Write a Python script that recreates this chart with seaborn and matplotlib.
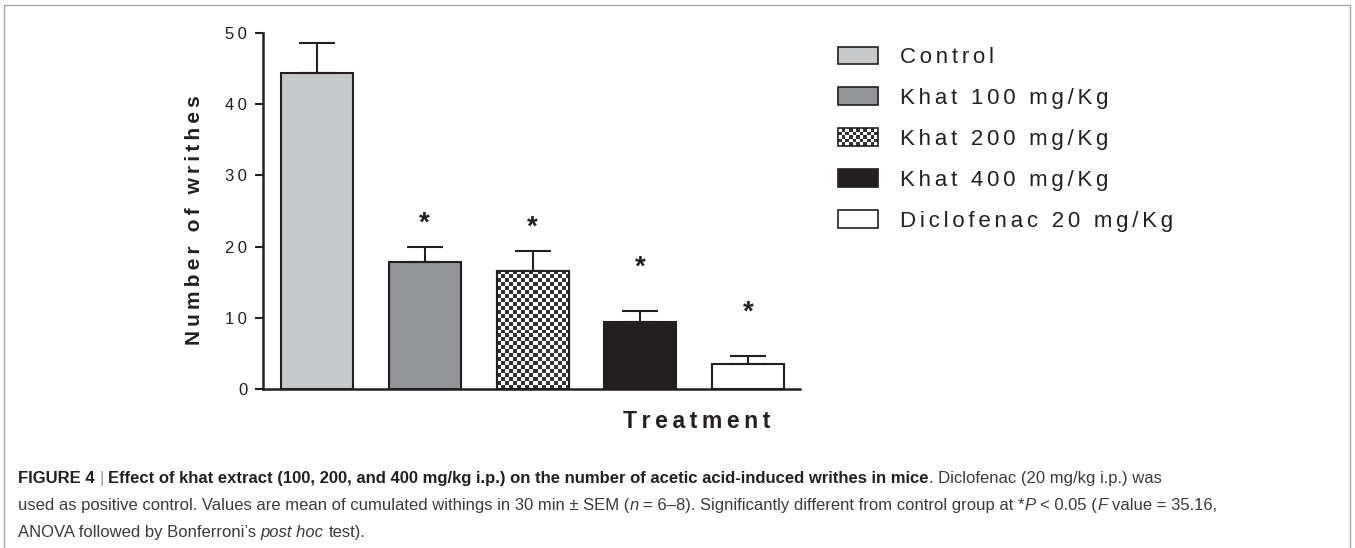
import numpy as np
import pandas as pd
import matplotlib
matplotlib.use("Agg")
import matplotlib.pyplot as plt
import seaborn as sns
from matplotlib.patches import Rectangle
from matplotlib.legend_handler import HandlerBase
from matplotlib.colors import ListedColormap

# ---------------- data ----------------
treatments = ["Control", "Khat 100 mg/Kg", "Khat 200 mg/Kg", "Khat 400 mg/Kg", "Diclofenac 20 mg/Kg"]
means = [44.4, 17.9, 16.6, 9.35, 3.5]
sems = [4.2, 2.05, 2.8, 1.55, 1.2]
star_y = [None, 23.8, 23.3, 17.7, 11.3]
y_ticks = [0, 10, 20, 30, 40, 50]
bar_colors = ["#c6c8ca", "#939598", "#ffffff", "#231f20", "#ffffff"]
checker_idx = 2

W, H = 1355, 548
DARK = "#231f20"
TXT = "#3a3a3a"

sns.set_style("ticks")
plt.rcParams["font.family"] = ["Liberation Sans", "DejaVu Sans"]

def track(s, sep="\u2009"):
    return sep.join(s)

fig = plt.figure(figsize=(W / 100, H / 100), dpi=100)
ax_left, ax_right = 263 / W, 800 / W
ax_bot, ax_top = 1 - 389 / H, 1 - 33 / H
ax = fig.add_axes([ax_left, ax_bot, ax_right - ax_left, ax_top - ax_bot])

df = pd.DataFrame({"treatment": treatments, "value": means})
sns.barplot(data=df, x="treatment", y="value", hue="treatment", order=treatments,
            hue_order=treatments, palette=bar_colors, legend=False, errorbar=None,
            width=0.668, edgecolor=DARK, linewidth=1.5, saturation=1, ax=ax, zorder=2)

ax.set_xlim(-0.5, 4.48)
ax.set_ylim(0, 50)

bars = sorted([p for p in ax.patches], key=lambda p: p.get_x())
xs = [p.get_x() + p.get_width() / 2 for p in bars]

# error bars (upper only)
ax.errorbar(xs, means, yerr=[np.zeros(len(means)), sems], fmt="none", ecolor=DARK,
            elinewidth=1.5, capsize=13, capthick=1.5, zorder=3)

# checker fill
p = bars[checker_idx]
x0, y0, w, h = p.get_x(), p.get_y(), p.get_width(), p.get_height()
(px0, py0) = ax.transData.transform((x0, y0))
(px1, py1) = ax.transData.transform((x0 + w, y0 + h))
ncols = max(1, int(round((px1 - px0) / 3.9)))
nrows = max(1, int(round((py1 - py0) / 3.9)))
arr = np.indices((nrows, ncols)).sum(axis=0) % 2
im = ax.imshow(arr, cmap=ListedColormap(["white", "#333133"]), extent=[x0, x0 + w, y0, y0 + h],
               aspect="auto", interpolation="nearest", origin="lower", zorder=2.1)
im.set_clip_path(p)
ax.add_patch(Rectangle((x0, y0), w, h, fill=False, edgecolor=DARK, lw=1.5, zorder=2.2))
ax.set_xlim(-0.5, 4.48)
ax.set_ylim(0, 50)

# asterisks
star_fs = 20
for x, sy in zip(xs, star_y):
    if sy is None:
        continue
    ax.annotate("*", xy=(x, sy), xytext=(0, -0.41 * star_fs), textcoords="offset points",
                ha="center", va="baseline", fontsize=star_fs, fontweight="bold", color=DARK)

# axes styling
sns.despine(ax=ax)
for s in ["left", "bottom"]:
    ax.spines[s].set_linewidth(1.8)
    ax.spines[s].set_color(DARK)
ax.set_xticks([])
ax.set_yticks(y_ticks)
ax.set_yticklabels([track(str(t)) for t in y_ticks])
ax.tick_params(axis="y", direction="out", length=5.8, width=1.5, pad=5.5,
               labelsize=12, colors=DARK)
ax.set_xlabel(track("Treatment"), fontsize=16.5, fontweight="bold", color=DARK)
ax.xaxis.label.set_va("center")
ax.xaxis.set_label_coords((697 - 263) / (800 - 263), -(421 - 389) / (389 - 33))
ax.set_ylabel(track("Number of writhes"), fontsize=15, fontweight="bold", color=DARK)
ax.yaxis.label.set_va("center")
ax.yaxis.set_label_coords(-(263 - 195) / (800 - 263), (389 - 220) / (389 - 33))

# legend
class CheckerPatch(Rectangle):
    pass

class CheckerHandler(HandlerBase):
    def create_artists(self, legend, orig_handle, xdescent, ydescent, width, height, fontsize, trans):
        arts = [Rectangle((-xdescent, -ydescent), width, height, facecolor="white",
                          edgecolor="none", transform=trans)]
        nc, nr = 11, 5
        sw, sh = width / nc, height / nr
        for i in range(nc):
            for j in range(nr):
                if (i + j) % 2:
                    arts.append(Rectangle((-xdescent + i * sw, -ydescent + j * sh), sw, sh,
                                          facecolor="#333133", edgecolor="none", transform=trans))
        arts.append(Rectangle((-xdescent, -ydescent), width, height, fill=False,
                              edgecolor=DARK, lw=1.2, transform=trans))
        return arts

handles = []
for i, c in enumerate(bar_colors):
    if i == checker_idx:
        handles.append(CheckerPatch((0, 0), 1, 1))
    else:
        handles.append(Rectangle((0, 0), 1, 1, facecolor=c, edgecolor=DARK, lw=1.2))
fig.legend(handles, [track(t, "\u2006") for t in treatments], loc="upper left",
           bbox_to_anchor=(838 / W, 1 - 46.5 / H), frameon=False, fontsize=16,
           handlelength=1.8, handleheight=0.86, handletextpad=1.0, labelspacing=0.865,
           borderpad=0, borderaxespad=0, labelcolor=DARK,
           handler_map={CheckerPatch: CheckerHandler()})

# frame
fig.add_artist(Rectangle((4 / W, -0.02), (1350 - 4) / W, 1.02 - 5 / H, transform=fig.transFigure,
                         fill=False, edgecolor="#a8a8a8", lw=1.0))

# caption
renderer = fig.canvas.get_renderer()
cap_fs = 12

def text_w(s, **kw):
    t = fig.text(0, 0, s, fontsize=cap_fs, **kw)
    wd = t.get_window_extent(renderer).width
    t.remove()
    return wd

space_w = text_w("a a") - text_w("aa")

def place_line(y_px, segs):
    x = 18.0
    for txt, weight, style, color in segs:
        lead = len(txt) - len(txt.lstrip(" "))
        trail = len(txt) - len(txt.rstrip(" "))
        core = txt.strip(" ")
        x += lead * space_w
        t = fig.text(x / W, 1 - y_px / H, core, fontsize=cap_fs, fontweight=weight,
                     fontstyle=style, color=color, ha="left", va="baseline")
        x += t.get_window_extent(renderer).width
        x += trail * space_w

N, B, I = "normal", "bold", "italic"
place_line(483, [("FIGURE 4 ", B, N, DARK), ("| ", N, N, "#9a9a9a"),
                 ("Effect of khat extract (100, 200, and 400 mg/kg i.p.) on the number of acetic acid-induced writhes in mice", B, N, DARK),
                 (". Diclofenac (20 mg/kg i.p.) was", N, N, TXT)])
place_line(510, [("used as positive control. Values are mean of cumulated withings in 30 min \u00b1 SEM (", N, N, TXT),
                 ("n", N, I, TXT),
                 (" = 6\u20138). Significantly different from control group at *", N, N, TXT),
                 ("P", N, I, TXT), (" < 0.05 (", N, N, TXT), ("F", N, I, TXT),
                 (" value = 35.16,", N, N, TXT)])
place_line(537, [("ANOVA followed by Bonferroni\u2019s ", N, N, TXT), ("post hoc", N, I, TXT),
                 (" test).", N, N, TXT)])

fig.savefig("out.png", dpi=100)
